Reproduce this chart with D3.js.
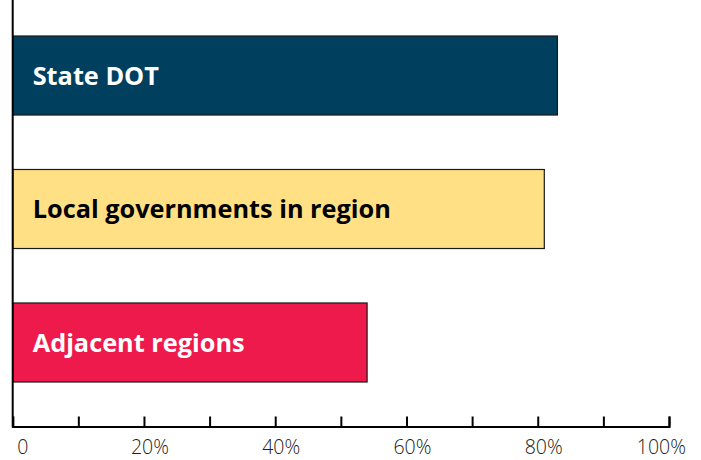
<!DOCTYPE html>
<html>
<head>
<meta charset="utf-8">
<script src="https://cdn.jsdelivr.net/npm/d3@7"></script>
<style>
  html, body { margin: 0; padding: 0; background: #fff; }
  svg { display: block; }
  .bar-label { font-family: "Open Sans", sans-serif; font-weight: 700; }
  .tick-label { font-family: "Open Sans", sans-serif; font-weight: 300; fill: #222; }
</style>
</head>
<body>
<svg id="chart" width="701" height="460"></svg>
<script>
// data (share of respondents, %)
const categories = ["State DOT", "Local governments in region", "Adjacent regions"];
const values = [83, 81, 54];
const barColors = ["#003f5e", "#ffe084", "#ee1a4b"];
const textColors = ["#ffffff", "#000000", "#ffffff"];
const tickValues = [0, 10, 20, 30, 40, 50, 60, 70, 80, 90, 100];
const tickLabels = ["0", "20%", "40%", "60%", "80%", "100%"];

const svg = d3.select("#chart");
const axisY = 426.5, axisX = 12.7;

// scales
const x = d3.scaleLinear().domain([0, 100]).range([axisX, 669]);
const y = d3.scaleBand()
  .domain(categories)
  .range([9.3, 408.7])
  .paddingInner(0.408)
  .paddingOuter(0.2);

// bars
const bars = svg.append("g").attr("class", "bars");
bars.selectAll("rect")
  .data(categories)
  .join("rect")
  .attr("x", x(0))
  .attr("y", d => y(d))
  .attr("width", (d, i) => x(values[i]) - x(0))
  .attr("height", y.bandwidth())
  .attr("fill", (d, i) => barColors[i])
  .attr("stroke", "#1a1a1a")
  .attr("stroke-width", 1.2);

// labels inside bars
bars.selectAll("text")
  .data(categories)
  .join("text")
  .attr("class", "bar-label")
  .attr("x", x(0) + 20)
  .attr("y", d => y(d) + y.bandwidth() / 2)
  .attr("dy", "0.36em")
  .attr("font-size", 25.3)
  .attr("fill", (d, i) => textColors[i])
  .text(d => d);

// axes: left line + bottom axis with upward ticks
svg.append("line")
  .attr("x1", axisX).attr("x2", axisX)
  .attr("y1", 0).attr("y2", axisY + 1)
  .attr("stroke", "#000").attr("stroke-width", 2);

const xAxis = d3.axisBottom(x)
  .tickValues(tickValues)
  .tickSizeInner(-10)
  .tickSizeOuter(-10)
  .tickFormat("");

const gx = svg.append("g")
  .attr("transform", `translate(0,${axisY})`)
  .call(xAxis);
gx.select(".domain").attr("stroke", "#000").attr("stroke-width", 2);
gx.selectAll(".tick line").attr("stroke", "#000").attr("stroke-width", 2);

// tick labels every 20%
const labelVals = tickValues.filter(v => v % 20 === 0);
svg.append("g").selectAll("text")
  .data(labelVals)
  .join("text")
  .attr("class", "tick-label")
  .attr("font-size", 19.5)
  .attr("x", d => d === 100 ? x(d) + 17 : x(d) + (d === 0 ? 10 : 6))
  .attr("y", 454)
  .attr("text-anchor", d => d === 100 ? "end" : "middle")
  .text((d, i) => tickLabels[i]);
</script>
</body>
</html>
